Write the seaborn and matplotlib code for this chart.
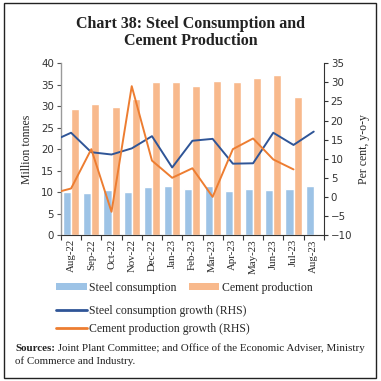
import numpy as np
import pandas as pd
import matplotlib
matplotlib.use("Agg")
import matplotlib.pyplot as plt
import seaborn as sns
from matplotlib.patches import Patch, Rectangle
from matplotlib.lines import Line2D

# ---- data ----
months = ['Aug-22', 'Sep-22', 'Oct-22', 'Nov-22', 'Dec-22', 'Jan-23', 'Feb-23',
          'Mar-23', 'Apr-23', 'May-23', 'Jun-23', 'Jul-23', 'Aug-23']
steel = [10.1, 9.9, 10.5, 10.1, 11.2, 11.4, 10.7, 11.4, 10.3, 10.7, 10.5, 10.7, 11.4]
cement = [29.4, 30.5, 29.9, 31.7, 35.7, 35.7, 34.7, 35.9, 35.7, 36.6, 37.3, 32.2, np.nan]

# growth series start one month earlier (Jul-22), cut off at the left axis
growth_months = ['Jul-22'] + months
steel_growth = [14.4, 16.8, 11.7, 11.1, 12.7, 15.9, 7.7, 14.7, 15.2, 8.7, 8.8, 16.8, 13.6, 17.1]
cement_growth = [0.8, 2.2, 12.5, -3.9, 29.0, 9.5, 5.0, 7.5, 0.0, 12.5, 15.3, 9.8, 7.2, np.nan]

c_steel_bar = '#9DC3E6'
c_cement_bar = '#F8B98C'
c_steel_line = '#2F5597'
c_cement_line = '#ED7D31'

bars = pd.DataFrame({
    'Month': months * 2,
    'Series': ['Steel consumption'] * len(months) + ['Cement production'] * len(months),
    'Value': steel + cement,
})

sns.set_style("ticks")
plt.rcParams['font.family'] = ['Liberation Serif', 'DejaVu Serif']

fig = plt.figure(figsize=(3.81, 3.81), dpi=100)
ax = fig.add_axes([0.160, 0.383, 0.690, 0.451])

sns.barplot(data=bars, x='Month', y='Value', hue='Series', order=months,
            hue_order=['Steel consumption', 'Cement production'],
            palette=[c_steel_bar, c_cement_bar], width=0.8, ax=ax,
            legend=False, saturation=1)

ax2 = ax.twinx()
xg = np.arange(-1, len(months))
sns.lineplot(x=xg, y=steel_growth, color=c_steel_line, lw=1.4, ax=ax2, sort=False)
sns.lineplot(x=xg, y=cement_growth, color=c_cement_line, lw=1.4, ax=ax2, sort=False)

ax.set_xlim(-0.5, len(months) - 0.5)
ax2.set_xlim(-0.5, len(months) - 0.5)
ax.set_ylim(0, 40)
ax.set_yticks(range(0, 41, 5))
ax2.set_ylim(-10, 35)
ax2.set_yticks(range(-10, 36, 5))

ax.set_xlabel('')
ax.set_ylabel('Million tonnes', fontsize=8.5, labelpad=6)
ax2.set_ylabel('Per cent, y-o-y', fontsize=8.5, labelpad=4)

ax.set_xticks(range(len(months)))
ax.set_xticklabels(months, rotation=90, fontsize=7.8)
ax.set_xticks(np.arange(-0.5, len(months)), minor=True)
ax.tick_params(axis='x', which='major', length=0, pad=3)
ax.tick_params(axis='x', which='minor', length=3.5, width=0.8, color='#333333')
ax.tick_params(axis='y', length=3, width=0.8, color='#555555', pad=2)
ax2.tick_params(axis='y', length=3, width=0.8, color='#333333', pad=2)
for t in ax.get_yticklabels() + ax2.get_yticklabels():
    t.set_fontfamily(['DejaVu Sans'])
    t.set_fontsize(7.4)
    t.set_color('#333333')

for a in (ax, ax2):
    a.spines['top'].set_visible(False)
ax.spines['right'].set_visible(False)
ax.spines['left'].set_color('#9a9a9a')
ax.spines['left'].set_linewidth(1.0)
ax.spines['bottom'].set_color('#333333')
ax.spines['bottom'].set_linewidth(0.8)
ax2.spines['left'].set_visible(False)
ax2.spines['bottom'].set_visible(False)
ax2.spines['right'].set_color('#333333')
ax2.spines['right'].set_linewidth(0.8)

# title
fig.text(0.5, 0.958, 'Chart 38: Steel Consumption and\nCement Production',
         ha='center', va='top', fontsize=11.5, fontweight='bold', linespacing=1.05,
         color='#222222')

# legends
bar_handles = [Patch(facecolor=c_steel_bar, edgecolor='none'),
               Patch(facecolor=c_cement_bar, edgecolor='none')]
fig.legend(bar_handles, ['Steel consumption', 'Cement production'], ncol=2,
           loc='center left', bbox_to_anchor=(0.135, 0.244), frameon=False,
           fontsize=8.5, handlelength=2.6, handleheight=0.55,
           handletextpad=0.2, columnspacing=1.0, borderaxespad=0)
line_handles = [Line2D([], [], color=c_steel_line, lw=2),
                Line2D([], [], color=c_cement_line, lw=2)]
fig.legend(line_handles, ['Steel consumption growth (RHS)',
                          'Cement production growth (RHS)'],
           loc='upper left', bbox_to_anchor=(0.135, 0.212), frameon=False,
           fontsize=8.5, handlelength=2.6, handletextpad=0.2,
           labelspacing=0.55, borderaxespad=0)

# sources note: bold word, then the rest right after it
src = fig.text(0.04, 0.079, 'Sources:', ha='left', va='baseline', fontsize=7.9,
               fontweight='bold', color='#222222')
fig.add_artist(plt.Annotation(
    ' Joint Plant Committee; and Office of the Economic Adviser, Ministry',
    xy=(1, 0), xycoords=src, ha='left', va='bottom', fontsize=7.9,
    color='#222222', annotation_clip=False))
fig.text(0.04, 0.045, 'of Commerce and Industry.', ha='left', va='baseline',
         fontsize=7.9, color='#222222')

# outer frame
fig.patches.append(Rectangle((0.011, 0.008), 0.975, 0.984, transform=fig.transFigure,
                             fill=False, edgecolor='#222222', linewidth=1.0))

fig.savefig('out.png', dpi=100)
